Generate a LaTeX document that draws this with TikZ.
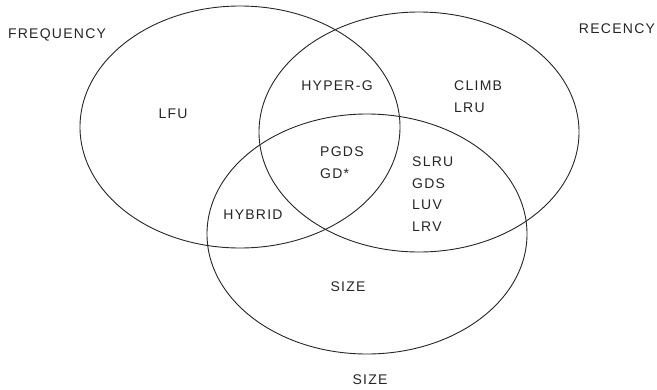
\documentclass[tikz,border=0pt]{standalone}
\usepackage{fontspec}
\setmainfont{Liberation Sans}[LetterSpace=9]
\begin{document}
\begin{tikzpicture}[x=1pt,y=-1pt,
  setline/.style={draw=black!85, line width=0.9pt},
  lbl/.style={font=\fontsize{14}{21.5}\selectfont, inner sep=0pt, text=black!85},
  multi/.style={lbl, align=left, anchor=north west}]
\useasboundingbox[fill=white] (0,0) rectangle (657,389);

% the three sets
\draw[setline] (240,127) ellipse [x radius=160pt, y radius=121pt];
\draw[setline] (419,132) ellipse [x radius=160pt, y radius=120pt];
\draw[setline] (367,234) ellipse [x radius=160pt, y radius=120pt];

% set names
\node[lbl, anchor=base] (freq) at (57,38) {FREQUENCY};
\node[lbl, anchor=base] (rec) at (617,33) {RECENCY};
\node[lbl, anchor=base] (size) at (370,384) {SIZE};

% policies in each region
\node[lbl, anchor=base] (lfu) at (173,118) {LFU};
\node[lbl, anchor=base] (hyperg) at (337,90) {HYPER-G};
\node[multi] (climb) at (454,81) {CLIMB\\LRU};
\node[multi] (pgds) at (320,147) {PGDS\\GD*};
\node[multi] (slru) at (412,157) {SLRU\\GDS\\LUV\\LRV};
\node[lbl, anchor=base] (hybrid) at (253,219) {HYBRID};
\node[lbl, anchor=base] (sizein) at (348,291) {SIZE};
\end{tikzpicture}
\end{document}
